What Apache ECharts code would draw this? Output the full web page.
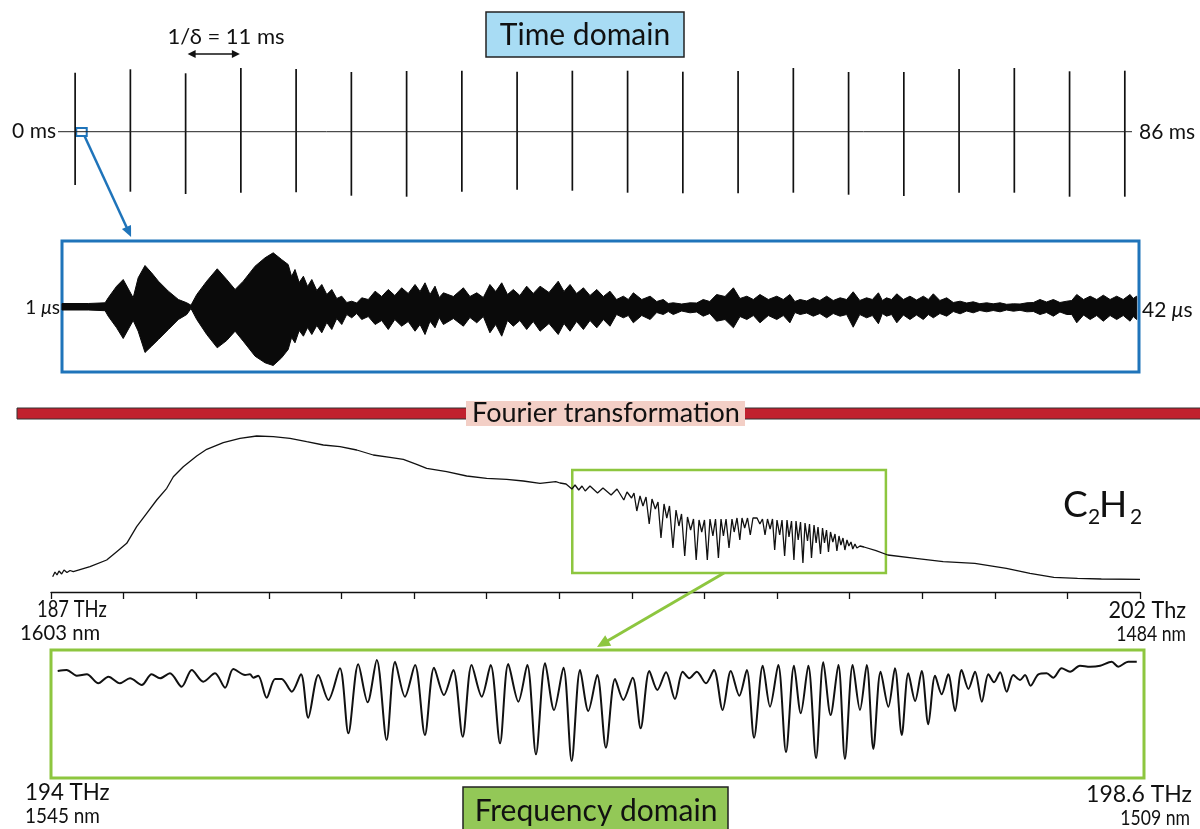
<!DOCTYPE html>
<html><head><meta charset="utf-8">
<script src="https://cdn.jsdelivr.net/npm/echarts/dist/echarts.min.js"></script>
<style>html,body{margin:0;padding:0;background:#fff}#c{width:1200px;height:829px}</style>
</head><body><div id="c"></div>
<script>
// ---------- Pulse train (time domain) ----------
const pulseIndex  = [0,1,2,3,4,5,6,7,8,9,10,11,12,13,14,15,16,17,18,19];
const pulseTop    = [59,62.4,58.4,63.7,62.7,59.7,60.7,61,60,61,61,60,60.7,63.7,59.7,59.7,62.7,63.7,60.4,61];
const pulseBottom = [-53.3,-60,-62.3,-61,-60.6,-64,-65,-60,-58,-59,-61,-61.6,-61.6,-61,-63,-64.3,-61,-61,-65,-65];

// ---------- Interferogram envelope (µs, upper, lower) ----------
const ifgTime  = [1.00,2.00,2.64,2.76,3.08,3.33,3.71,3.90,4.16,4.41,4.67,5.05,5.43,5.75,5.91,6.13,6.51,6.91,7.27,7.59,7.90,8.35,8.73,9.04,9.36,
  9.61,9.74,9.87,10.03,10.19,10.35,10.51,10.70,10.89,11.08,11.27,11.46,11.65,11.84,12.03,12.22,12.41,12.66,12.92,13.17,13.42,13.67,13.93,14.18,14.44,14.63,14.82,15.01,15.20,15.36,15.52,15.90,16.28,16.53,16.79,17.04,17.29,17.51,17.74,17.96,18.18,18.43,18.69,18.94,19.20,19.54,19.89,20.11,20.34,20.59,20.85,21.10,21.36,21.61,21.86,22.11,22.37,22.56,22.75,23.07,23.39,23.64,23.89,24.08,24.27,24.59,24.91,25.16,25.41,25.66,25.92,26.24,26.56,26.81,27.07,27.32,27.57,27.89,28.21,28.46,28.71,28.90,29.10,29.35,29.60,29.85,30.11,30.36,30.62,30.87,31.12,31.37,31.63,31.85,32.08,32.23,32.39,32.58,32.78,33.03,33.28,33.53,33.79,33.98,34.17,34.42,34.68,34.93,35.19,35.44,35.69,35.94,36.20,36.45,36.71,36.96,37.22,37.47,37.73,37.98,38.23,38.48,38.74,38.99,39.25,39.44,39.63,39.89,40.14,40.39,40.64,40.90,41.15,41.40,41.66,41.78,41.91];
const ifgUpper = [3,3,3.7,8.7,20.3,27,8.7,28.7,41,33.7,25.3,15.3,7,3.7,1.3,12,25.3,37.7,27,17,25.3,40.3,48.7,53.7,47,
  42,30,37,24,30.3,20,27,16,22,12,17,8,10.3,4,5.3,3.5,8.7,7,15.3,10,17,11,18.7,13,22,15,23.7,12,20.3,9,13.7,10,18.7,10,13.7,9,22,15,23.7,12,17,11,20.3,13,20.3,14,25.3,15,22,13,18.7,11,17,10,15.3,7,10.3,7,13.7,7,10.3,5,7,3,3.7,2.5,3.7,3.5,7,5,12,10,18.7,8,10.3,7,12,7,10.3,7,12,5,7,5.5,8.7,6,10.3,6,8.7,7,14.7,6,8.7,7,13.7,6,8.7,7,12.7,7,10.3,6.5,10.3,7,12.7,6,8.7,4,5.3,3.5,4.7,2.8,3.7,2.7,3.7,2.2,2.7,2.5,3.7,4,7,4.5,7,4,5.3,6,12,7,10.3,7,11.3,7,10.3,7,12,8,10.3];
const ifgLower = [-3.5,-3.5,-4.2,-9.7,-21.3,-32,-14,-24.7,-46,-39.7,-33,-23,-13,-8,-2,-13,-28,-41.3,-34,-24.7,-34.7,-49.7,-56.3,-59,-51.3,
  -43,-31,-36.3,-24,-29.7,-21,-28,-19,-26.3,-16,-23,-12,-18,-8,-11.3,-7,-13,-10,-18,-14,-23,-13,-19.7,-15,-24.7,-18,-28,-14.7,-21.3,-11,-18,-12,-19.7,-11,-16.3,-10,-26.3,-18,-29.7,-14,-19.7,-14,-23,-15,-24.7,-17,-28,-17,-24.7,-15,-23,-14,-21.3,-13,-19.7,-8,-11.3,-9,-16.3,-9,-13,-6,-8,-5,-8,-4.5,-6.3,-5.5,-9.7,-7,-14.7,-13,-21.3,-10,-13,-9,-16.3,-9,-13,-9,-16.3,-6,-8,-6.5,-9.7,-7,-11.3,-7,-9.7,-8,-20.7,-8,-11.3,-9,-17.3,-7,-9.7,-8,-16.3,-8.5,-13,-8.5,-13,-8,-11.3,-7,-9.7,-5,-7.3,-4.5,-6.3,-4,-5.3,-4,-5.3,-3.5,-4.7,-3.8,-5.3,-5,-8,-6,-9.7,-5.5,-8,-8,-16.3,-8.5,-13,-9,-14.7,-9,-13,-9,-14.7,-10,-13];

// ---------- Broadband spectrum (THz, a.u.) ----------
const specFreq = [187.023,187.055,187.083,187.110,187.147,187.179,187.220,187.262,187.307,187.537,187.767,187.905,188.043,188.180,188.318,188.456,188.594,188.685,188.822,189.007,189.145,189.373,189.603,189.833,190.062,190.292,190.522,190.751,190.981,191.211,191.439,191.669,191.853,192.037,192.175,192.450,192.726,193.001,193.277,193.505,193.736,193.953,
  194.011,194.094,194.175,194.218,194.269,194.314,194.358,194.424,194.528,194.603,194.715,194.796,194.890,194.934,194.997,195.030,195.069,195.113,195.154,195.196,195.240,195.278,195.324,195.361,195.402,195.444,195.482,195.519,195.567,195.609,195.649,195.685,195.729,195.767,195.810,195.850,195.887,195.926,195.963,196.001,196.040,196.077,196.117,196.153,196.193,196.229,196.262,196.298,196.339,196.380,196.410,196.449,196.488,196.518,196.555,196.594,196.632,196.669,196.691,196.725,196.764,196.800,196.835,196.869,196.905,196.938,196.968,197.000,197.037,197.069,197.105,197.138,197.165,197.200,197.233,197.262,197.292,197.324,197.357,197.386,197.420,197.448,197.475,197.510,197.539,197.565,197.599,197.627,197.654,197.682,197.709,197.737,197.769,197.799,197.825,197.854,197.880,197.909,197.935,197.964,197.990,198.019,198.044,198.074,198.100,198.143,198.198,198.364,198.526,
  198.908,199.289,199.725,200.160,200.485,200.813,201.139,201.467,202.000];
const specVal  = [15.3,20,17,21,18,22,19.5,21.5,20.3,25.3,32,40.3,48.7,65.3,78.7,92,103.7,115.3,125.3,136,142.7,149.3,153.7,156,155.3,153.7,150.3,147,145.3,142,137,134.7,132.7,127.7,123.7,120.3,116,113.7,112.7,111,108.7,110.3,
  109,108,103,107,102,106,101,106,99,104,97,103,92,100,94,99,81,96,86,95,68,93,83,90,54,88,74,86,44,82,66,78,36,75,62,73,32,72,60,72,32,73,56,73,34,73,56,73,44,73,60,74,52,74,64,74,57,74,72,74,68,73,57,73,63,73,42,72,57,72,36,72,55,71,32,71,52,70,29,69,51,68,34,67,49,65,38,64,49,62,40,60,50,58,41,56,47,54,42,52,46,50,43,48,44,46,45,41.3,37,
  33.7,30.3,28.7,23.7,18.7,14.7,13.7,13,12.7];
const specTicks = [187,188,189,190,191,192,193,194,195,196,197,198,199,200,201,202];

// ---------- Zoomed absorption spectrum (THz, a.u.) ----------
const zoomFreq = [194.003,194.041,194.084,194.127,194.176,194.219,194.268,194.311,194.361,194.403,194.439,194.481,194.531,194.574,194.623,194.673,194.716,194.751,194.801,194.822,194.836,194.857,194.893,194.929,194.957,195.000,195.039,195.070,195.113,195.156,195.205,195.241,195.283,195.323,195.362,195.404,195.440,195.482,195.525,195.567,195.606,195.648,195.688,195.728,195.766,195.809,195.847,195.887,195.922,195.965,196.003,196.040,196.079,196.117,196.157,196.192,196.228,196.263,196.301,196.338,196.377,196.412,196.452,196.486,196.523,196.557,196.594,196.632,196.665,196.693,196.725,196.764,196.798,196.835,196.870,196.906,196.938,196.969,197.006,197.037,197.072,197.105,197.139,197.168,197.200,197.233,197.264,197.295,197.328,197.356,197.389,197.420,197.449,197.477,197.508,197.541,197.569,197.598,197.626,197.655,197.683,197.711,197.740,197.768,197.796,197.825,197.853,197.882,197.910,197.939,197.967,197.991,198.017,198.045,198.073,198.102,198.123,198.147,198.180,198.215,198.244,198.279,198.315,198.357,198.400,198.443,198.492,198.520,198.563,198.599];
const zoomVal  = [107,108,102.3,103.7,94.7,101.3,94.7,99.7,93,103.7,99.7,104.7,91.3,108,96.3,104.7,90.3,109,103,103.7,100.3,102.3,80.3,99,99,86.3,103.7,60.3,103,78,109.7,44.7,113.7,75.7,118,38,116.3,81.3,113,43,110.3,83,108,41.3,113,81.3,113,34.7,114,76.3,113,23.7,114.7,68,110.3,17,108,67,103,30.3,99,78,100.3,49.7,107,88,105.7,79,106.3,99.7,106.3,94.7,108,68,107,82.3,108,40.3,112.3,71.3,113,25.7,112.3,64.7,112.3,19.7,115.7,63,113,19,113,68,113,29,106.3,71.3,109.7,43,104.7,77,107,53.7,102.3,83.7,103.7,67,108,89,106.3,76.3,103.7,95.7,105.7,86.3,103,98,103,92.3,103.7,104.7,100.3,109.7,106.3,112.3,111.3,112.3,116.3,111.3,116.3,116.3];

// ---------- Text ----------
const labels = {
  rep: '1/δ = 11 ms', timeDomain: 'Time domain', t0: '0 ms', t1: '86 ms',
  fourier: 'Fourier transformation', f0a: '187 THz', f0b: '1603 nm', f1a: '202 Thz', f1b: '1484 nm',
  z0a: '194 THz', z0b: '1545 nm', z1a: '198.6 THz', z1b: '1509 nm', freqDomain: 'Frequency domain'
};

const FONT = 'Lato, "Open Sans", sans-serif';
const BLUE = '#1f74ba', GREEN = '#8dc63f';
const chart = echarts.init(document.getElementById('c'), null, {renderer: 'canvas'});

const option = {
  animation: false,
  backgroundColor: '#fff',
  grid: [
    {left: 58, top: 61.7, width: 1074, height: 140},
    {left: 62, top: 241, width: 1077, height: 131, show: true, borderColor: BLUE, borderWidth: 3, backgroundColor: 'transparent'},
    {left: 51, top: 432, width: 1089, height: 160},
    {left: 57, top: 650, width: 1080, height: 128}
  ],
  xAxis: [
    {gridIndex: 0, type: 'value', min: -0.31, max: 19.13, show: false},
    {gridIndex: 1, type: 'value', min: 1, max: 42, show: false},
    {gridIndex: 2, type: 'value', min: 187, max: 202, interval: 1,
      axisLine: {show: true, onZero: false, lineStyle: {color: '#111', width: 1.3}},
      axisTick: {show: true, inside: false, length: 7, lineStyle: {color: '#111', width: 1.3}},
      axisLabel: {show: false}, splitLine: {show: false}},
    {gridIndex: 3, type: 'value', min: 194, max: 198.6, show: false}
  ],
  yAxis: [
    {gridIndex: 0, type: 'value', min: -70, max: 70, show: false},
    {gridIndex: 1, type: 'value', min: -65.5, max: 65.5, show: false},
    {gridIndex: 2, type: 'value', min: 0, max: 160, show: false},
    {gridIndex: 3, type: 'value', min: 0, max: 128, show: false}
  ],
  series: [
    {type: 'line', xAxisIndex: 0, yAxisIndex: 0, data: [[-0.31, 0], [19.13, 0]], symbol: 'none', silent: true,
      lineStyle: {color: '#222', width: 1},
      markArea: {silent: true, itemStyle: {color: 'rgba(0,0,0,0)', borderColor: BLUE, borderWidth: 2},
        data: [[{coord: [0.02, 3.7]}, {coord: [0.21, -4.3]}]]}},
    {type: 'custom', xAxisIndex: 0, yAxisIndex: 0, silent: true,
      data: pulseIndex.map((p, i) => [p, pulseTop[i], pulseBottom[i]]),
      encode: {x: 0, y: [1, 2]},
      renderItem: function (params, api) {
        const a = api.coord([api.value(0), api.value(1)]);
        const b = api.coord([api.value(0), api.value(2)]);
        return {type: 'line', shape: {x1: a[0], y1: a[1], x2: b[0], y2: b[1]}, style: {stroke: '#111', lineWidth: 1.7}};
      }},
    {type: 'custom', xAxisIndex: 1, yAxisIndex: 1, silent: true,
      data: ifgTime.map((t, i) => [t, ifgUpper[i], ifgLower[i]]),
      encode: {x: 0, y: [1, 2]},
      renderItem: function (params, api) {
        if (params.dataIndex !== 0) return null;
        const pts = [];
        for (let i = 0; i < ifgTime.length; i++) pts.push(api.coord([ifgTime[i], ifgUpper[i]]));
        for (let i = ifgTime.length - 1; i >= 0; i--) pts.push(api.coord([ifgTime[i], ifgLower[i]]));
        return {type: 'polygon', shape: {points: pts}, style: {fill: '#0a0a0a', stroke: '#0a0a0a', lineWidth: 1, lineJoin: 'miter'}};
      }},
    {type: 'line', xAxisIndex: 2, yAxisIndex: 2, data: specFreq.map((f, i) => [f, specVal[i]]), symbol: 'none', silent: true,
      lineStyle: {color: '#111', width: 1.3},
      markArea: {silent: true, itemStyle: {color: 'rgba(0,0,0,0)', borderColor: GREEN, borderWidth: 2.5},
        data: [[{coord: [194.18, 122]}, {coord: [198.5, 19]}]]}},
    {type: 'line', xAxisIndex: 3, yAxisIndex: 3, data: zoomFreq.map((f, i) => [f, zoomVal[i]]), symbol: 'none', silent: true,
      smooth: 0.3, lineStyle: {color: '#111', width: 2}}
  ]
};
chart.setOption(option);

function txt(x, y, text, size, align, sx) {
  return {type: 'text', z: 100, x: x, y: y, scaleX: sx || 1, style: {x: 0, y: 0, text: text, font: size + 'px ' + FONT, fontSize: size, fontFamily: FONT,
    fill: '#111', align: align, textAlign: align, verticalAlign: 'middle', textVerticalAlign: 'middle'}};
}
function mu(x, y, num, size, align) {
  return {type: 'text', z: 100, style: {x: x, y: y, text: '{n|' + num + ' }{i|μ}{n|s}', align: align, textAlign: align, verticalAlign: 'middle', textVerticalAlign: 'middle',
    rich: {n: {font: size + 'px ' + FONT, fontSize: size, fontFamily: FONT, fill: '#111'},
           i: {font: 'italic ' + size + 'px ' + FONT, fontSize: size, fontStyle: 'italic', fontFamily: FONT, fill: '#111'}}}};
}
function arrow(p0, p1, color, lw, hl, hw, both) {
  const dx = p1[0] - p0[0], dy = p1[1] - p0[1], L = Math.hypot(dx, dy), ux = dx / L, uy = dy / L;
  const head = (t, ux, uy) => ({type: 'polygon', z: 100, shape: {points: [t, [t[0] - ux * hl - uy * hw, t[1] - uy * hl + ux * hw], [t[0] - ux * hl + uy * hw, t[1] - uy * hl - ux * hw]]}, style: {fill: color}});
  const s = both ? [p0[0] + ux * hl * 0.8, p0[1] + uy * hl * 0.8] : p0;
  const e = [p1[0] - ux * hl * 0.8, p1[1] - uy * hl * 0.8];
  const out = [{type: 'line', z: 100, shape: {x1: s[0], y1: s[1], x2: e[0], y2: e[1]}, style: {stroke: color, lineWidth: lw}}, head(p1, ux, uy)];
  if (both) out.push(head(p0, -ux, -uy));
  return out;
}

const g = [];
// Time domain label box
g.push({type: 'rect', z: 90, shape: {x: 486, y: 12, width: 198, height: 45}, style: {fill: '#a8dcf4', stroke: '#222', lineWidth: 1.5}});
g.push(txt(585, 35, labels.timeDomain, 30, 'center'));
// repetition arrow
const ra = chart.convertToPixel({gridIndex: 0}, [2, 77.7]);
const rb = chart.convertToPixel({gridIndex: 0}, [3, 77.7]);
g.push(...arrow([ra[0] + 2, ra[1]], [rb[0] - 1, rb[1]], '#111', 1.5, 8, 4, true));
g.push(txt(226, 37, labels.rep, 22, 'center'));
g.push(txt(56, 131, labels.t0, 21, 'right'));
g.push(txt(1139, 132, labels.t1, 21, 'left'));
// µs labels
g.push(mu(60, 308, '1', 19, 'right'));
g.push(mu(1142, 310, '42', 21, 'left'));
// blue zoom arrow
const bs = chart.convertToPixel({gridIndex: 0}, [0.17, -4.3]);
const be = chart.convertToPixel({gridIndex: 1}, [3.63, 69.5]);
g.push(...arrow(bs, be, BLUE, 2.5, 11, 5, false));
// Fourier bar
g.push({type: 'rect', z: 90, shape: {x: 17, y: 408, width: 1190, height: 11}, style: {fill: '#c1212e', stroke: '#333', lineWidth: 1}});
g.push({type: 'rect', z: 91, shape: {x: 466, y: 401, width: 279, height: 25}, style: {fill: '#f3cfc6'}});
g.push(txt(606, 413, labels.fourier, 27, 'center'));
// C2H2
g.push(txt(1063, 505, 'C', 37, 'left'));
g.push(txt(1088, 517, '2', 21, 'left'));
g.push(txt(1099, 505, 'H', 37, 'left'));
g.push(txt(1130, 517, '2', 21, 'left'));
// axis end labels
g.push(txt(37, 610, labels.f0a, 23, 'left', 0.8));
g.push(txt(20, 633, labels.f0b, 22, 'left', 0.92));
g.push(txt(1186, 611, labels.f1a, 23, 'right', 0.94));
g.push(txt(1186, 634, labels.f1b, 22, 'right', 0.8));
// green arrow
const gs = chart.convertToPixel({gridIndex: 2}, [196.27, 19]);
const ge = chart.convertToPixel({gridIndex: 3}, [196.3, 131]);
g.push(...arrow(gs, ge, GREEN, 3, 13, 6, false));
// zoom box border
g.push({type: 'rect', z: 95, shape: {x: 51, y: 650, width: 1093, height: 128}, style: {fill: 'none', stroke: GREEN, lineWidth: 3}});
g.push(txt(25, 793, labels.z0a, 23, 'left', 0.97));
g.push(txt(25, 816, labels.z0b, 22, 'left', 0.86));
g.push(txt(1192, 795, labels.z1a, 23, 'right', 1.0));
g.push(txt(1190, 818, labels.z1b, 22, 'right', 0.8));
// Frequency domain label box
g.push({type: 'rect', z: 90, shape: {x: 463, y: 787, width: 265, height: 52}, style: {fill: '#93c857', stroke: '#222', lineWidth: 1.5}});
g.push(txt(596, 811, labels.freqDomain, 30, 'center'));

chart.setOption({graphic: {elements: g}});
</script></body></html>
